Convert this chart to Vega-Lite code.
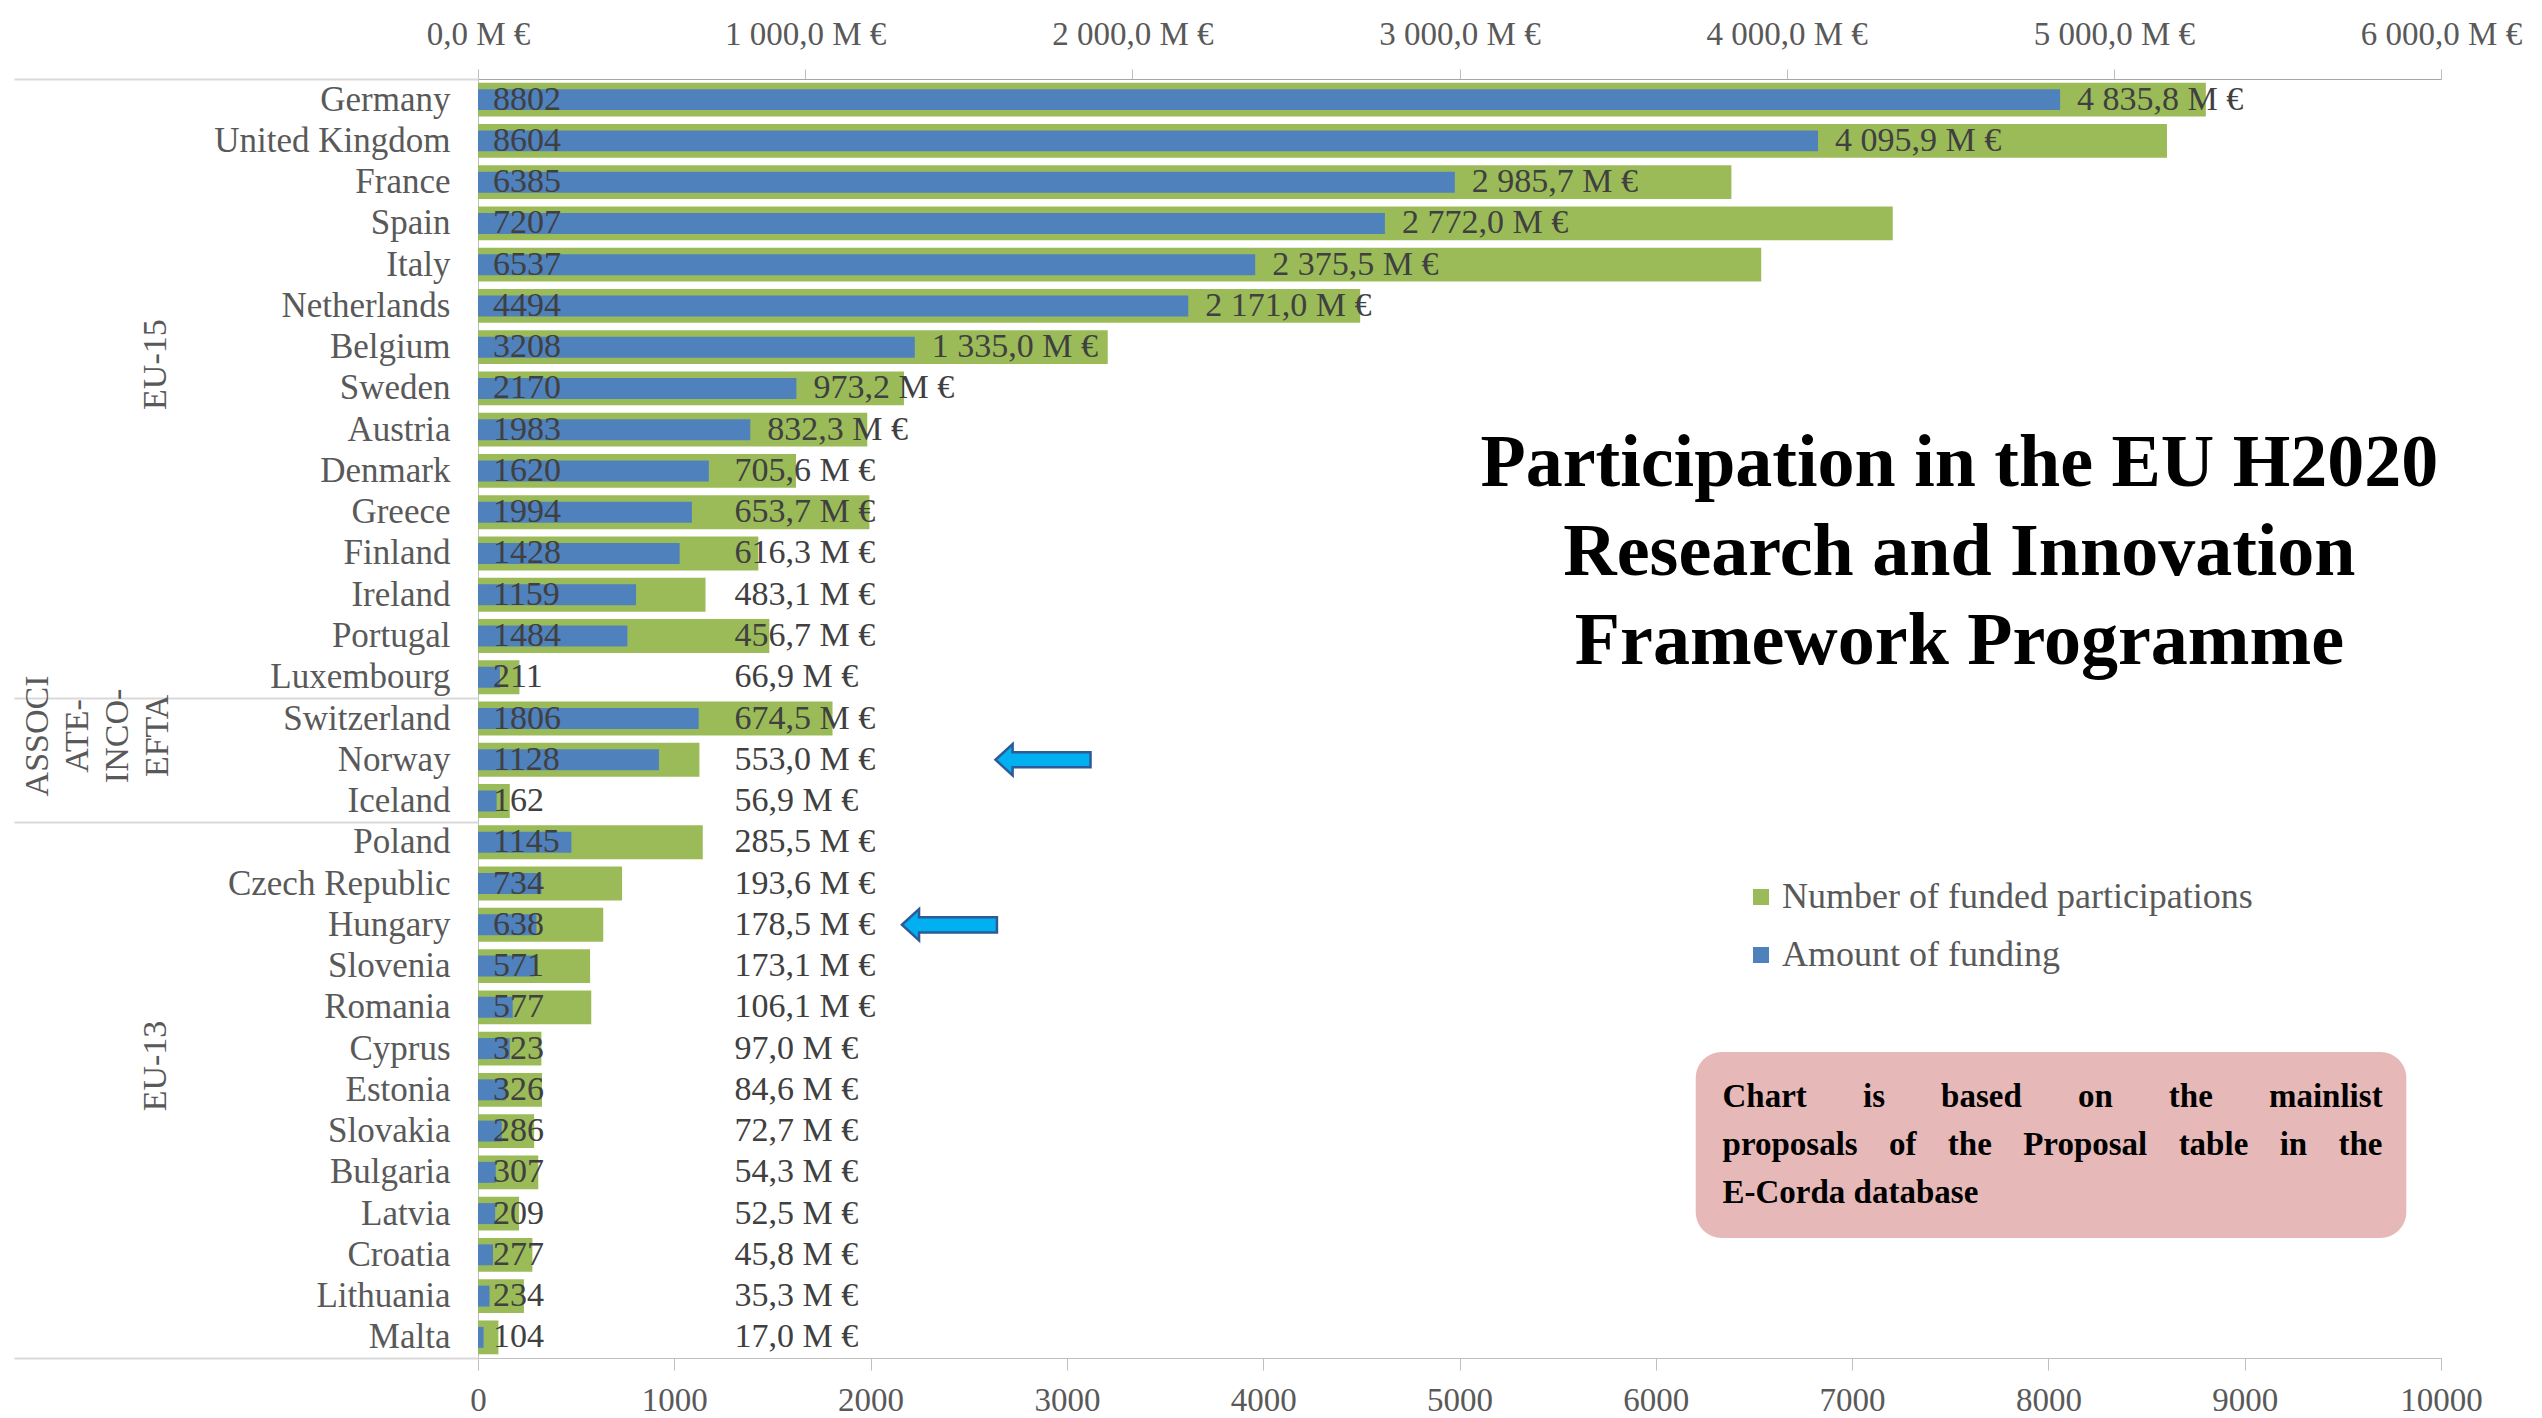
{
  "$schema": "https://vega.github.io/schema/vega-lite/v6.json",
  "width": 1963,
  "height": 1279,
  "autosize": {"type": "none"},
  "padding": {"left": 478, "top": 79, "right": 101, "bottom": 60},
  "background": "white",
  "config": {
    "view": {"stroke": null},
    "font": "Liberation Serif",
    "locale": {"number": {"decimal": ",", "thousands": " ", "grouping": [3], "currency": ["", " M €"]}},
    "axis": {"labelFont": "Liberation Serif", "labelColor": "#595959", "grid": false, "domainColor": "#bfbfbf", "tickColor": "#bfbfbf"},
    "legend": {"labelFont": "Liberation Serif"}
  },
  "datasets": {
    "h2020": [
      {"group": "EU-15", "country": "Germany", "participations": 8802, "funding": 4835.8},
      {"group": "EU-15", "country": "United Kingdom", "participations": 8604, "funding": 4095.9},
      {"group": "EU-15", "country": "France", "participations": 6385, "funding": 2985.7},
      {"group": "EU-15", "country": "Spain", "participations": 7207, "funding": 2772.0},
      {"group": "EU-15", "country": "Italy", "participations": 6537, "funding": 2375.5},
      {"group": "EU-15", "country": "Netherlands", "participations": 4494, "funding": 2171.0},
      {"group": "EU-15", "country": "Belgium", "participations": 3208, "funding": 1335.0},
      {"group": "EU-15", "country": "Sweden", "participations": 2170, "funding": 973.2},
      {"group": "EU-15", "country": "Austria", "participations": 1983, "funding": 832.3},
      {"group": "EU-15", "country": "Denmark", "participations": 1620, "funding": 705.6},
      {"group": "EU-15", "country": "Greece", "participations": 1994, "funding": 653.7},
      {"group": "EU-15", "country": "Finland", "participations": 1428, "funding": 616.3},
      {"group": "EU-15", "country": "Ireland", "participations": 1159, "funding": 483.1},
      {"group": "EU-15", "country": "Portugal", "participations": 1484, "funding": 456.7},
      {"group": "EU-15", "country": "Luxembourg", "participations": 211, "funding": 66.9},
      {"group": "ASSOCIATE-INCO-EFTA", "country": "Switzerland", "participations": 1806, "funding": 674.5},
      {"group": "ASSOCIATE-INCO-EFTA", "country": "Norway", "participations": 1128, "funding": 553.0},
      {"group": "ASSOCIATE-INCO-EFTA", "country": "Iceland", "participations": 162, "funding": 56.9},
      {"group": "EU-13", "country": "Poland", "participations": 1145, "funding": 285.5},
      {"group": "EU-13", "country": "Czech Republic", "participations": 734, "funding": 193.6},
      {"group": "EU-13", "country": "Hungary", "participations": 638, "funding": 178.5},
      {"group": "EU-13", "country": "Slovenia", "participations": 571, "funding": 173.1},
      {"group": "EU-13", "country": "Romania", "participations": 577, "funding": 106.1},
      {"group": "EU-13", "country": "Cyprus", "participations": 323, "funding": 97.0},
      {"group": "EU-13", "country": "Estonia", "participations": 326, "funding": 84.6},
      {"group": "EU-13", "country": "Slovakia", "participations": 286, "funding": 72.7},
      {"group": "EU-13", "country": "Bulgaria", "participations": 307, "funding": 54.3},
      {"group": "EU-13", "country": "Latvia", "participations": 209, "funding": 52.5},
      {"group": "EU-13", "country": "Croatia", "participations": 277, "funding": 45.8},
      {"group": "EU-13", "country": "Lithuania", "participations": 234, "funding": 35.3},
      {"group": "EU-13", "country": "Malta", "participations": 104, "funding": 17.0}
    ],
    "titleText": [{"text": ["Participation in the EU H2020", "Research and Innovation", "Framework Programme"]}],
    "noteText": [{"text": ["Chart\u2003\u2002\u2009is\u2003\u2002\u2009based\u2003\u2002\u2009on\u2003\u2002\u2009the\u2003\u2002\u2009mainlist", "proposals \u2002\u2009of \u2002\u2009the \u2002\u2009Proposal \u2002\u2009table \u2002\u2009in \u2002\u2009the", "E-Corda database"]}]
  },
  "data": {"name": "h2020"},
  "layer": [
    {
      "mark": {"type": "bar"},
      "encoding": {
        "y": {
          "field": "country", "type": "nominal",
          "scale": {"domain": ["Germany","United Kingdom","France","Spain","Italy","Netherlands","Belgium","Sweden","Austria","Denmark","Greece","Finland","Ireland","Portugal","Luxembourg","Switzerland","Norway","Iceland","Poland","Czech Republic","Hungary","Slovenia","Romania","Cyprus","Estonia","Slovakia","Bulgaria","Latvia","Croatia","Lithuania","Malta"], "paddingInner": 0.18, "paddingOuter": 0.09},
          "axis": {"orient": "left", "title": null, "ticks": false, "domain": true, "labelPadding": 28, "labelFontSize": 35, "labelOverlap": false, "labelLimit": 0}
        },
        "x": {
          "field": "participations", "type": "quantitative",
          "scale": {"domain": [0, 10000], "nice": false},
          "axis": {"orient": "bottom", "title": null, "values": [0,1000,2000,3000,4000,5000,6000,7000,8000,9000,10000], "format": "d", "tickSize": 12, "labelPadding": 14, "labelFontSize": 33, "labelFlush": false}
        },
        "color": {
          "datum": "Number of funded participations",
          "scale": {"domain": ["Number of funded participations", "Amount of funding"], "range": ["#9bbb59", "#4f81bd"]},
          "legend": {"orient": "none", "legendX": 1265, "legendY": 800, "title": null, "symbolType": "square", "symbolSize": 256, "symbolStrokeWidth": 0, "labelFontSize": 36, "labelColor": "#595959", "labelOffset": 3, "labelLimit": 0, "rowPadding": 22, "padding": 0}
        }
      }
    },
    {
      "layer": [
        {
          "mark": {"type": "bar", "height": {"band": 0.62}},
          "encoding": {
            "y": {
              "field": "country", "type": "nominal",
              "scale": {"domain": ["Germany","United Kingdom","France","Spain","Italy","Netherlands","Belgium","Sweden","Austria","Denmark","Greece","Finland","Ireland","Portugal","Luxembourg","Switzerland","Norway","Iceland","Poland","Czech Republic","Hungary","Slovenia","Romania","Cyprus","Estonia","Slovakia","Bulgaria","Latvia","Croatia","Lithuania","Malta"], "paddingInner": 0.18, "paddingOuter": 0.09},
              "axis": {
                "orient": "left", "title": null, "domain": false, "ticks": true,
                "tickSize": 464, "tickWidth": 2, "tickColor": "#d9d9d9",
                "bandPosition": 1.21951, "tickOffset": -3.713, "tickExtra": true,
                "tickOpacity": {"condition": {"test": "datum.value === 'Luxembourg' || datum.value === 'Iceland' || datum.value === 'Malta' || !datum.value", "value": 1}, "value": 0},
                "labelExpr": "datum.value === 'Sweden' ? 'EU-15' : datum.value === 'Norway' ? ['ASSOCI', 'ATE-', 'INCO-', 'EFTA'] : datum.value === 'Estonia' ? 'EU-13' : ''",
                "labelAngle": -90, "labelAlign": "center", "labelBaseline": "bottom",
                "labelPadding": {"condition": {"test": "datum.value === 'Norway'", "value": -40}, "value": -158},
                "labelOffset": -20.63, "labelLineHeight": 40,
                "labelFontSize": 34, "labelOverlap": false, "labelLimit": 0
              }
            },
            "x": {
              "field": "funding", "type": "quantitative",
              "scale": {"domain": [0, 6000], "nice": false},
              "axis": {"orient": "top", "title": null, "values": [0,1000,2000,3000,4000,5000,6000], "format": "$,.1f", "tickSize": 10, "labelPadding": 18, "labelFontSize": 33, "labelFlush": false, "domainColor": "#a6a6a6"}
            },
            "color": {"datum": "Amount of funding"}
          }
        },
        {
          "mark": {"type": "text", "align": "left", "baseline": "middle", "dx": 15, "fontSize": 34, "color": "#404040"},
          "encoding": {
            "y": {"field": "country", "type": "nominal"},
            "x": {"datum": 0},
            "text": {"field": "participations", "format": "d"}
          }
        },
        {
          "transform": [{"filter": "datum.funding >= 800"}],
          "mark": {"type": "text", "align": "left", "baseline": "middle", "dx": 17, "fontSize": 34, "color": "#404040"},
          "encoding": {
            "y": {"field": "country", "type": "nominal"},
            "x": {"field": "funding", "type": "quantitative"},
            "text": {"field": "funding", "format": "$,.1f"}
          }
        },
        {
          "transform": [{"filter": "datum.funding < 800"}],
          "mark": {"type": "text", "align": "left", "baseline": "middle", "fontSize": 34, "color": "#404040"},
          "encoding": {
            "y": {"field": "country", "type": "nominal"},
            "x": {"datum": 784},
            "text": {"field": "funding", "format": "$,.1f"}
          }
        },
        {
          "data": {"name": "titleText"},
          "mark": {"type": "text", "align": "center", "baseline": "middle", "fontSize": 74, "fontWeight": "bold", "lineHeight": 89, "dy": -7, "color": "#000000"},
          "encoding": {"x": {"datum": 4528}, "y": {"datum": "Denmark"}, "text": {"field": "text"}}
        },
        {
          "data": {"values": [{"note": "box"}]},
          "mark": {"type": "rect", "color": "#e6b9b8", "cornerRadius": 26},
          "encoding": {"x": {"datum": 3722}, "x2": {"datum": 5894}, "y": {"datum": "Cyprus", "bandPosition": 0.6}, "y2": {"datum": "Croatia", "bandPosition": 0}}
        },
        {
          "data": {"name": "noteText"},
          "mark": {"type": "text", "align": "left", "baseline": "middle", "fontSize": 33, "fontWeight": "bold", "lineHeight": 48, "dy": 7, "color": "#000000"},
          "encoding": {"x": {"datum": 3804}, "y": {"datum": "Estonia"}, "text": {"field": "text"}}
        },
        {
          "data": {"values": [{"arrow": "Norway"}]},
          "mark": {"type": "point", "shape": "M-1,0L-0.64,-0.33L-0.64,-0.16L1,-0.16L1,0.16L-0.64,0.16L-0.64,0.33Z", "size": 9025, "filled": true, "fill": "#00b0f0", "stroke": "#2e5b97", "strokeWidth": 2.5, "opacity": 1},
          "encoding": {"x": {"datum": 1727}, "y": {"datum": "Norway"}}
        },
        {
          "data": {"values": [{"arrow": "Hungary"}]},
          "mark": {"type": "point", "shape": "M-1,0L-0.64,-0.33L-0.64,-0.16L1,-0.16L1,0.16L-0.64,0.16L-0.64,0.33Z", "size": 9025, "filled": true, "fill": "#00b0f0", "stroke": "#2e5b97", "strokeWidth": 2.5, "opacity": 1},
          "encoding": {"x": {"datum": 1441}, "y": {"datum": "Hungary"}}
        }
      ]
    }
  ],
  "resolve": {"scale": {"x": "independent"}, "axis": {"y": "independent"}}
}
